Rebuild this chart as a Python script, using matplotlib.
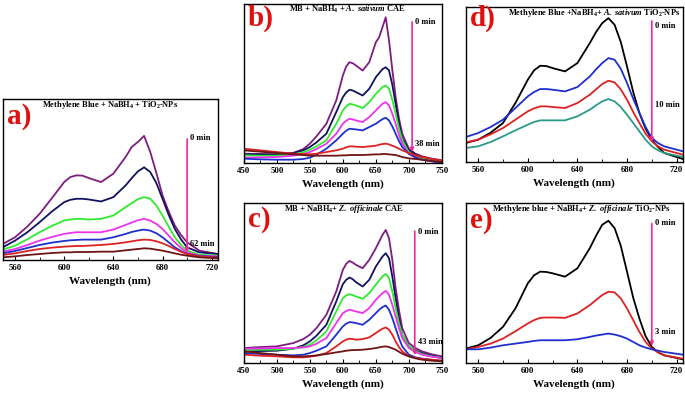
import numpy as np
import matplotlib
matplotlib.use("Agg")
import matplotlib.pyplot as plt
from matplotlib.ticker import MultipleLocator

plt.rcParams['font.family'] = 'Liberation Serif'
plt.rcParams['font.weight'] = 'bold'
plt.rcParams['mathtext.fontset'] = 'custom'
plt.rcParams['mathtext.rm'] = 'Liberation Serif:bold'
plt.rcParams['mathtext.it'] = 'Liberation Serif:italic:bold'
plt.rcParams['mathtext.bf'] = 'Liberation Serif:bold'

# ---- panel a: Methylene Blue + NaBH4 + TiO2-NPs ----
wl_a = [550, 560, 570, 580, 590, 600, 605, 610, 615, 620, 630, 640, 650, 655, 660, 665, 670, 675, 680, 685, 690, 695, 700, 710, 725]
a_0 = [0.48, 0.68, 1.00, 1.38, 1.85, 2.33, 2.48, 2.53, 2.52, 2.45, 2.33, 2.58, 3.08, 3.38, 3.53, 3.71, 3.23, 2.60, 1.93, 1.45, 1.03, 0.75, 0.53, 0.28, 0.18]
a_1 = [0.38, 0.58, 0.83, 1.13, 1.45, 1.73, 1.80, 1.83, 1.83, 1.81, 1.75, 1.88, 2.23, 2.45, 2.65, 2.77, 2.63, 2.30, 1.83, 1.35, 0.93, 0.62, 0.38, 0.23, 0.18]
a_2 = [0.31, 0.43, 0.62, 0.83, 1.02, 1.18, 1.21, 1.23, 1.23, 1.21, 1.23, 1.33, 1.58, 1.70, 1.82, 1.88, 1.83, 1.63, 1.33, 1.00, 0.68, 0.45, 0.28, 0.16, 0.13]
a_3 = [0.25, 0.33, 0.45, 0.58, 0.69, 0.78, 0.81, 0.83, 0.83, 0.83, 0.83, 0.91, 1.05, 1.12, 1.19, 1.23, 1.18, 1.08, 0.93, 0.73, 0.53, 0.36, 0.23, 0.13, 0.11]
a_4 = [0.20, 0.27, 0.36, 0.45, 0.52, 0.57, 0.59, 0.60, 0.61, 0.61, 0.61, 0.68, 0.78, 0.84, 0.88, 0.91, 0.88, 0.80, 0.68, 0.53, 0.38, 0.27, 0.18, 0.12, 0.09]
a_5 = [0.15, 0.20, 0.27, 0.33, 0.37, 0.40, 0.41, 0.42, 0.42, 0.43, 0.45, 0.48, 0.53, 0.56, 0.59, 0.61, 0.60, 0.56, 0.50, 0.42, 0.33, 0.25, 0.18, 0.11, 0.07]
a_6 = [0.08, 0.11, 0.15, 0.18, 0.21, 0.23, 0.23, 0.24, 0.24, 0.24, 0.25, 0.25, 0.29, 0.31, 0.33, 0.35, 0.34, 0.31, 0.28, 0.24, 0.20, 0.16, 0.13, 0.08, 0.05]

# ---- panels b, c share the wavelength grid ----
wl_bc = [450, 475, 500, 525, 540, 550, 560, 575, 590, 600, 605, 610, 615, 620, 630, 640, 650, 655, 660, 665, 670, 675, 680, 685, 690, 700, 710, 720, 735, 750]
# b: MB + NaBH4 + A. sativum CAE
b_0 = [0.28, 0.27, 0.26, 0.30, 0.42, 0.58, 0.80, 1.18, 1.88, 2.63, 2.90, 3.03, 3.00, 2.93, 2.78, 3.03, 3.63, 3.78, 4.08, 4.38, 3.68, 2.80, 1.98, 1.35, 0.88, 0.43, 0.28, 0.20, 0.13, 0.08]
b_1 = [0.26, 0.26, 0.25, 0.30, 0.38, 0.48, 0.62, 0.88, 1.53, 1.98, 2.12, 2.20, 2.18, 2.13, 2.03, 2.23, 2.58, 2.70, 2.82, 2.88, 2.78, 2.35, 1.78, 1.20, 0.73, 0.38, 0.25, 0.18, 0.11, 0.06]
b_2 = [0.23, 0.22, 0.22, 0.26, 0.32, 0.40, 0.50, 0.68, 1.18, 1.58, 1.70, 1.78, 1.76, 1.73, 1.65, 1.83, 2.08, 2.18, 2.28, 2.33, 2.23, 1.90, 1.48, 1.05, 0.68, 0.33, 0.20, 0.13, 0.07, 0.03]
b_3 = [0.16, 0.17, 0.18, 0.22, 0.27, 0.33, 0.42, 0.58, 0.88, 1.18, 1.27, 1.33, 1.31, 1.28, 1.23, 1.38, 1.58, 1.68, 1.78, 1.83, 1.73, 1.48, 1.18, 0.85, 0.58, 0.28, 0.16, 0.10, 0.05, 0.01]
b_4 = [0.13, 0.11, 0.10, 0.10, 0.12, 0.16, 0.25, 0.43, 0.68, 0.88, 0.97, 1.03, 1.02, 1.01, 0.98, 1.08, 1.18, 1.25, 1.32, 1.36, 1.28, 1.10, 0.88, 0.66, 0.48, 0.28, 0.17, 0.10, 0.05, 0.01]
b_5 = [0.43, 0.38, 0.33, 0.28, 0.27, 0.26, 0.28, 0.33, 0.38, 0.43, 0.47, 0.50, 0.50, 0.49, 0.48, 0.50, 0.52, 0.55, 0.57, 0.58, 0.56, 0.52, 0.48, 0.43, 0.38, 0.30, 0.23, 0.18, 0.12, 0.08]
b_6 = [0.38, 0.34, 0.30, 0.26, 0.24, 0.22, 0.22, 0.22, 0.22, 0.23, 0.23, 0.24, 0.24, 0.24, 0.24, 0.25, 0.26, 0.26, 0.27, 0.27, 0.26, 0.25, 0.24, 0.21, 0.18, 0.14, 0.12, 0.10, 0.06, 0.03]
# c: MB + NaBH4 + Z. officinale CAE
c_0 = [0.45, 0.48, 0.50, 0.60, 0.72, 0.85, 1.05, 1.45, 2.15, 2.80, 2.98, 3.07, 3.02, 2.95, 2.85, 3.10, 3.45, 3.65, 3.85, 4.00, 3.75, 3.10, 2.25, 1.60, 1.05, 0.60, 0.45, 0.35, 0.26, 0.20]
c_1 = [0.35, 0.36, 0.37, 0.43, 0.53, 0.65, 0.82, 1.15, 1.85, 2.37, 2.50, 2.57, 2.52, 2.43, 2.30, 2.50, 2.90, 3.05, 3.20, 3.30, 3.15, 2.60, 1.95, 1.35, 0.85, 0.50, 0.38, 0.30, 0.22, 0.15]
c_2 = [0.40, 0.40, 0.40, 0.43, 0.48, 0.55, 0.68, 0.95, 1.55, 1.95, 2.03, 2.07, 2.04, 2.00, 1.93, 2.10, 2.35, 2.48, 2.60, 2.68, 2.55, 2.15, 1.65, 1.20, 0.85, 0.50, 0.36, 0.27, 0.20, 0.15]
c_3 = [0.43, 0.44, 0.45, 0.45, 0.47, 0.50, 0.58, 0.75, 1.20, 1.50, 1.56, 1.60, 1.58, 1.55, 1.50, 1.65, 1.90, 2.00, 2.10, 2.17, 2.05, 1.75, 1.40, 1.05, 0.75, 0.45, 0.33, 0.25, 0.19, 0.15]
c_4 = [0.30, 0.27, 0.25, 0.23, 0.25, 0.30, 0.37, 0.50, 0.85, 1.10, 1.18, 1.23, 1.22, 1.20, 1.15, 1.30, 1.50, 1.60, 1.68, 1.73, 1.60, 1.35, 1.05, 0.75, 0.50, 0.25, 0.17, 0.13, 0.09, 0.07]
c_5 = [0.25, 0.22, 0.20, 0.17, 0.17, 0.19, 0.22, 0.30, 0.50, 0.65, 0.70, 0.73, 0.72, 0.70, 0.72, 0.77, 0.90, 0.97, 1.03, 1.07, 1.00, 0.85, 0.65, 0.48, 0.35, 0.20, 0.15, 0.13, 0.10, 0.07]
c_6 = [0.35, 0.30, 0.25, 0.20, 0.20, 0.21, 0.23, 0.27, 0.32, 0.35, 0.37, 0.38, 0.39, 0.39, 0.40, 0.42, 0.45, 0.47, 0.49, 0.50, 0.48, 0.44, 0.40, 0.34, 0.28, 0.20, 0.14, 0.10, 0.07, 0.05]

# ---- panels d, e share the wavelength grid ----
wl_de = [550, 560, 570, 580, 590, 600, 605, 610, 615, 620, 630, 640, 650, 655, 660, 665, 670, 675, 680, 685, 690, 695, 700, 705, 710, 725]
# d: Methylene Blue + NaBH4 + A. sativum TiO2-NPs
d_0 = [0.57, 0.67, 0.88, 1.17, 1.77, 2.47, 2.75, 2.89, 2.88, 2.82, 2.72, 2.97, 3.57, 3.90, 4.17, 4.32, 4.12, 3.60, 2.87, 2.10, 1.47, 1.00, 0.67, 0.45, 0.27, 0.09]
d_1 = [0.75, 0.87, 1.05, 1.27, 1.62, 1.97, 2.10, 2.19, 2.19, 2.17, 2.12, 2.25, 2.57, 2.78, 2.97, 3.12, 3.07, 2.80, 2.37, 1.90, 1.47, 1.05, 0.72, 0.57, 0.47, 0.32]
d_2 = [0.59, 0.67, 0.83, 1.02, 1.27, 1.52, 1.61, 1.67, 1.67, 1.65, 1.62, 1.77, 2.02, 2.18, 2.34, 2.44, 2.39, 2.18, 1.87, 1.50, 1.17, 0.85, 0.62, 0.47, 0.37, 0.22]
d_3 = [0.42, 0.47, 0.60, 0.77, 0.95, 1.12, 1.20, 1.25, 1.25, 1.25, 1.25, 1.37, 1.57, 1.70, 1.82, 1.89, 1.82, 1.65, 1.42, 1.17, 0.92, 0.67, 0.47, 0.35, 0.27, 0.15]
# e: Methylene blue + NaBH4 + Z. officinale TiO2-NPs
e_0 = [0.43, 0.53, 0.75, 1.08, 1.63, 2.38, 2.62, 2.73, 2.72, 2.68, 2.58, 2.83, 3.43, 3.80, 4.13, 4.25, 4.03, 3.50, 2.73, 1.95, 1.33, 0.80, 0.48, 0.32, 0.23, 0.11]
e_1 = [0.41, 0.48, 0.58, 0.73, 0.95, 1.18, 1.28, 1.35, 1.36, 1.36, 1.35, 1.48, 1.73, 1.88, 2.03, 2.13, 2.11, 1.93, 1.63, 1.28, 0.93, 0.63, 0.43, 0.32, 0.23, 0.13]
e_2 = [0.41, 0.41, 0.46, 0.53, 0.58, 0.63, 0.66, 0.68, 0.68, 0.68, 0.68, 0.71, 0.78, 0.82, 0.85, 0.88, 0.85, 0.80, 0.73, 0.63, 0.53, 0.46, 0.41, 0.37, 0.33, 0.25]

purple, navy, green, magenta = '#7d1d7d', '#12125e', '#2fea2f', '#ee33ee'
blue, red, maroon = '#1f2fd0', '#dd2222', '#6e1414'
teal, pink = '#2a9a8a', '#ee2a9a'

panels = [
    dict(rect=[0.004, 0.345, 0.314, 0.4055], letter='a)', wl=wl_a,
         series=[a_0, a_1, a_2, a_3, a_4, a_5, a_6],
         colors=[purple, navy, green, magenta, blue, red, maroon],
         xlim=(550, 725), ylim=(0, 4.81), major=40, minor=20,
         title='Methylene Blue + NaBH$_4$ + TiO$_2$-NPs', tx=0.5, ha='center',
         arrow_x=700, arrow=(3.70, 0.15), t0=3.66, t1=0.48, tend='62 min', ly=0.89),
    dict(rect=[0.356, 0.5894, 0.289, 0.4005], letter='b)', wl=wl_bc,
         series=[b_0, b_1, b_2, b_3, b_4, b_5, b_6],
         colors=[purple, navy, green, magenta, blue, red, maroon],
         xlim=(450, 750), ylim=(0, 4.78), major=50, minor=25,
         title='MB + NaBH$_4$ + $\\mathit{A.\\ sativum}$ CAE', tx=0.52, ha='center',
         arrow_x=705, arrow=(4.33, 0.25), t0=4.25, t1=0.58, tend='38 min', ly=0.91),
    dict(rect=[0.356, 0.0856, 0.289, 0.403], letter='c)', wl=wl_bc,
         series=[c_0, c_1, c_2, c_3, c_4, c_5, c_6],
         colors=[purple, navy, green, magenta, blue, red, maroon],
         xlim=(450, 750), ylim=(0, 4.81), major=50, minor=25,
         title='MB + NaBH$_4$+ $\\mathit{Z.\\ officinale}$ CAE', tx=0.505, ha='center',
         arrow_x=709, arrow=(4.05, 0.15), t0=3.95, t1=0.62, tend='43 min', ly=0.90),
    dict(rect=[0.680, 0.592, 0.3168, 0.390], letter='d)', wl=wl_de,
         series=[d_0, d_1, d_2, d_3],
         colors=['black', blue, red, teal],
         xlim=(550, 725), ylim=(0, 4.65), major=40, minor=20,
         title='Methylene Blue +NaBH$_4$+ $\\mathit{A.\\ sativum}$ TiO$_2$-NPs', tx=0.99, ha='right',
         arrow_x=700, arrow=(4.32, 0.52), t0=4.09, t1=1.72, tend='10 min', ly=0.93),
    dict(rect=[0.680, 0.0856, 0.3168, 0.403], letter='e)', wl=wl_de,
         series=[e_0, e_1, e_2],
         colors=['black', red, blue],
         xlim=(550, 725), ylim=(0, 4.78), major=40, minor=20,
         title='Methylene blue + NaBH$_4$+ $\\mathit{Z.\\ officinale}$ TiO$_2$-NPs', tx=0.535, ha='center',
         arrow_x=700, arrow=(4.25, 0.43), t0=4.18, t1=0.93, tend='3 min', ly=0.89),
]

fig = plt.figure(figsize=(6.85, 3.97), dpi=100)

for p in panels:
    ax = fig.add_axes(p['rect'])
    for y, c in zip(p['series'], p['colors']):
        ax.plot(p['wl'], y, color=c, lw=1.3, solid_joinstyle='round')
    ax.set_xlim(*p['xlim'])
    ax.set_ylim(*p['ylim'])
    ax.set_yticks([])
    ax.xaxis.set_major_locator(MultipleLocator(p['major']))
    ax.xaxis.set_minor_locator(MultipleLocator(p['minor']))
    ax.tick_params(axis='x', which='both', direction='in', labelsize=6.3, pad=3)
    ax.tick_params(axis='x', which='major', length=3)
    ax.tick_params(axis='x', which='minor', length=2)
    for lab in ax.get_xticklabels():
        lab.set_fontweight('bold')
    for s in ax.spines.values():
        s.set_linewidth(1.0)
    ax.set_xlabel('Wavelength (nm)', fontsize=8, fontweight='bold', labelpad=3)

    ax.text(0.02, p['ly'], p['letter'], transform=ax.transAxes, color='#e01010',
            fontsize=21, fontweight='bold', va='center', ha='left')
    ax.text(p['tx'], 0.965, p['title'], transform=ax.transAxes, fontsize=6,
            fontweight='bold', va='center', ha=p['ha'])

    # decay arrow with start / end times
    ax.annotate('', xy=(p['arrow_x'], p['arrow'][1]), xytext=(p['arrow_x'], p['arrow'][0]),
                arrowprops=dict(arrowstyle='-|>', color=pink, lw=1.2, mutation_scale=5))
    dx = 2.5 * (p['xlim'][1] - p['xlim'][0]) / 175
    ax.text(p['arrow_x'] + dx, p['t0'], '0 min', fontsize=6, fontweight='bold', va='center', ha='left')
    ax.text(p['arrow_x'] + dx, p['t1'], p['tend'], fontsize=6, fontweight='bold', va='center', ha='left')

fig.savefig('out.png', dpi=100)
